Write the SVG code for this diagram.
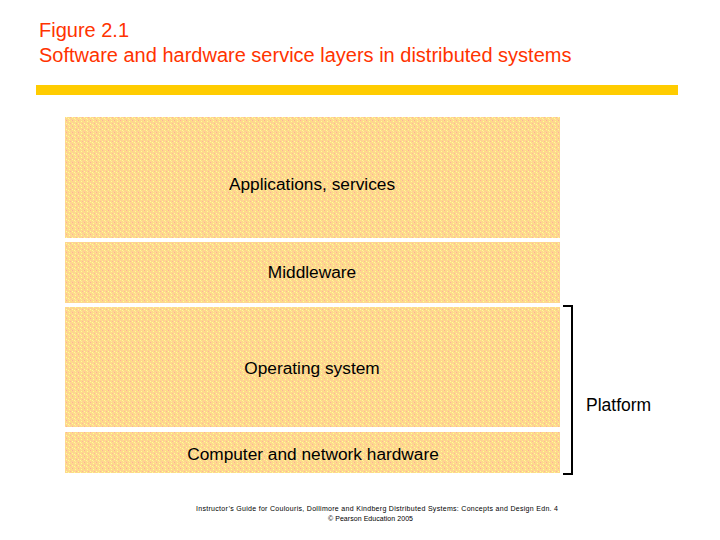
<svg xmlns="http://www.w3.org/2000/svg" width="720" height="540" viewBox="0 0 720 540">
<style>
.title{font-family:"Liberation Sans",Arial,sans-serif;font-size:20px;fill:#ff3300}
.lbl{font-family:"Liberation Sans",Arial,sans-serif;font-size:17.3px;fill:#000;text-anchor:middle}
.plat{font-family:"Liberation Sans",Arial,sans-serif;font-size:17.5px;fill:#000}
.foot{font-family:"Liberation Sans",Arial,sans-serif;font-size:7px;fill:#000}
.layer{fill:url(#dots)}
</style>
<defs>
<pattern id="dots" width="6" height="6" patternUnits="userSpaceOnUse">
<rect width="6" height="6" fill="#fdd98c"/>
<rect x="0" y="0" width="1" height="1" fill="#ffa8a0"/>
<rect x="3" y="1" width="1" height="1" fill="#ffff99"/>
<rect x="1" y="2" width="1" height="1" fill="#ffc6a0"/>
<rect x="4" y="3" width="1" height="1" fill="#ffb0a0"/>
<rect x="2" y="4" width="1" height="1" fill="#ffff99"/>
<rect x="5" y="5" width="1" height="1" fill="#ffc6a0"/>
<rect x="5" y="0" width="1" height="1" fill="#ffe38a"/>
<rect x="0" y="3" width="1" height="1" fill="#ffff99"/>
<rect x="3" y="5" width="1" height="1" fill="#ffee99"/>
</pattern>
</defs>
<rect width="720" height="540" fill="#fff"/>
<text class="title" x="39" y="37">Figure 2.1</text>
<text class="title" x="39" y="62">Software and hardware service layers in distributed systems</text>
<rect x="36" y="85" width="642" height="10" fill="#ffcc00"/>
<g id="applications">
<rect class="layer" x="65" y="117" width="495" height="121"/>
<text class="lbl" x="312" y="190">Applications, services</text>
</g>
<g id="middleware">
<rect class="layer" x="65" y="242" width="495" height="61"/>
<text class="lbl" x="312" y="278">Middleware</text>
</g>
<g id="os">
<rect class="layer" x="65" y="307" width="495" height="120"/>
<text class="lbl" x="312" y="374">Operating system</text>
</g>
<g id="hardware">
<rect class="layer" x="65" y="432" width="495" height="41"/>
<text class="lbl" x="313" y="460">Computer and network hardware</text>
</g>
<g id="connectors">
<path d="M563,306 H572 V474 H563" fill="none" stroke="#000" stroke-width="2"/>
</g>
<g id="platform">
<text class="plat" x="586" y="411">Platform</text>
</g>
<text class="foot" x="196" y="511" textLength="362" lengthAdjust="spacing">Instructor’s Guide for  Coulouris, Dollimore and Kindberg   Distributed Systems: Concepts and Design    Edn. 4</text>
<text class="foot" x="328" y="521" textLength="85" lengthAdjust="spacing">© Pearson Education 2005</text>
</svg>
